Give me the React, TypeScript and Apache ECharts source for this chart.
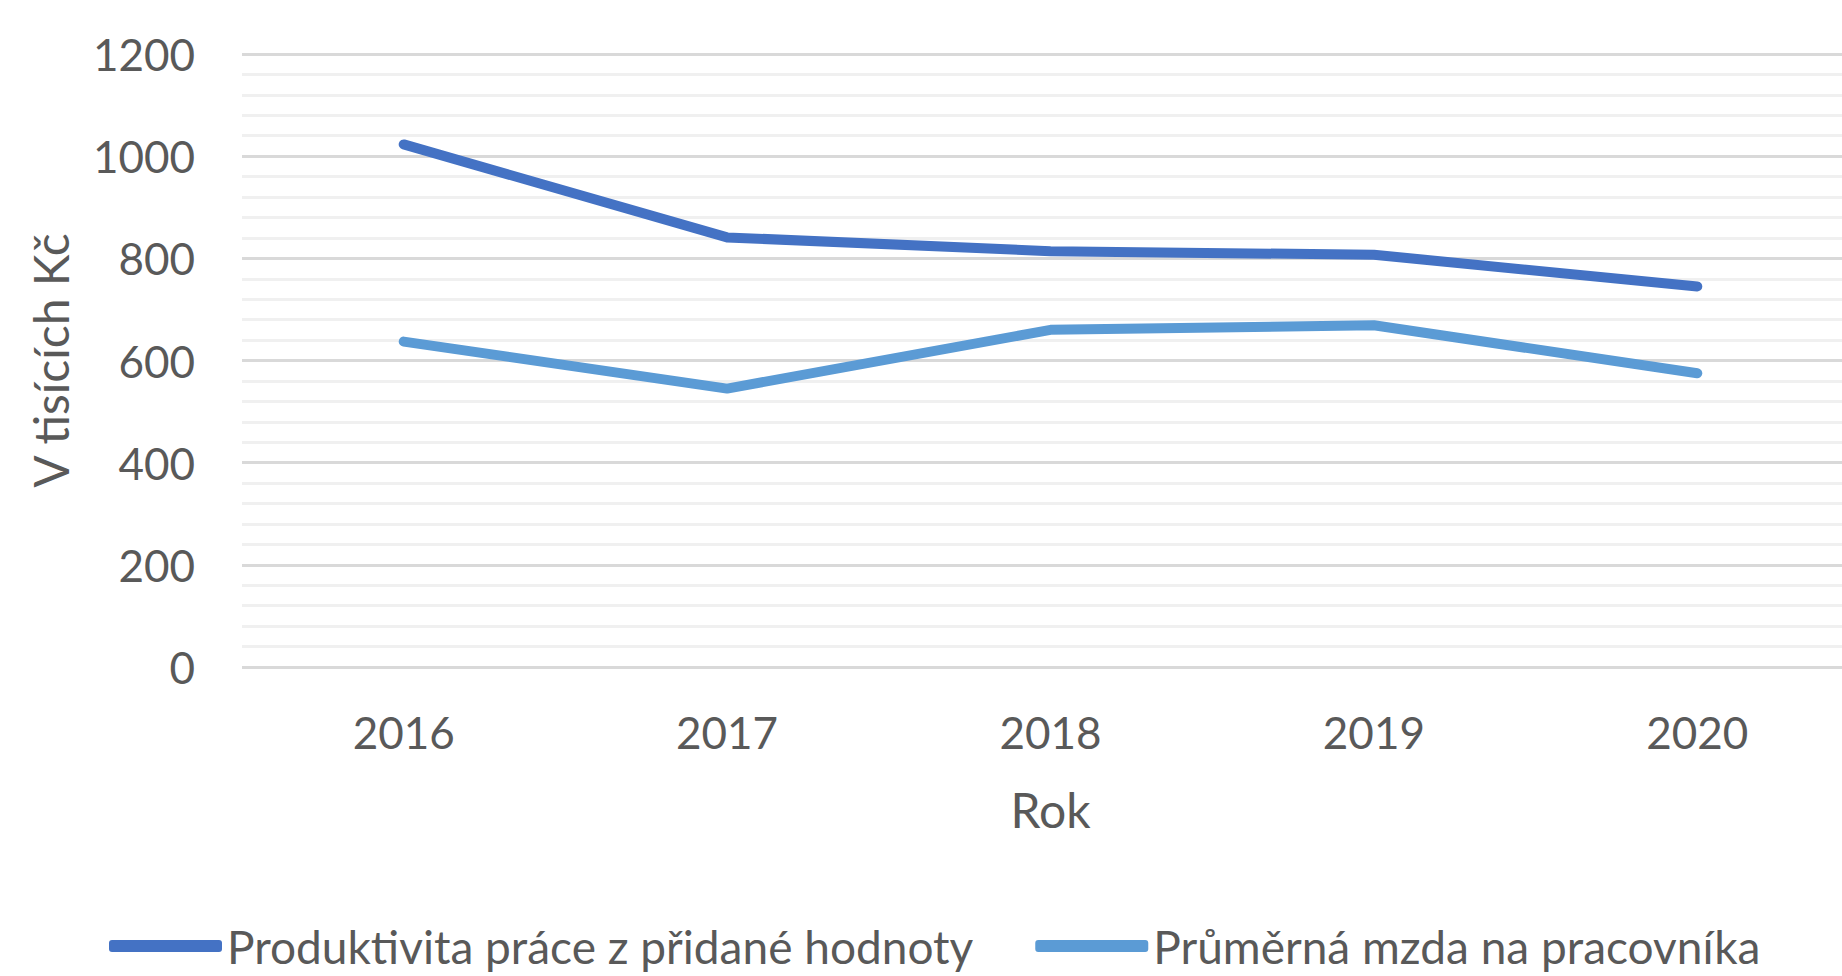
import React, { useEffect, useRef } from "react";
import * as echarts from "echarts";

const years = ["2016", "2017", "2018", "2019", "2020"];
const productivity = [1023, 841, 814, 807, 745];
const wage = [637, 545, 660, 669, 575];
const seriesNames = ["Produktivita práce z přidané hodnoty", "Průměrná mzda na pracovníka"];
const yAxisTitle = "V tisících Kč";
const xAxisTitle = "Rok";

const FONT = "Lato";
const TEXT = "#595959";

export default function App() {
  const ref = useRef<HTMLDivElement>(null);
  useEffect(() => {
    document.body.style.margin = "0";
    const chart = echarts.init(ref.current!, null, { renderer: "svg" });
    chart.setOption({
      animation: false,
      backgroundColor: "#ffffff",
      textStyle: { fontFamily: FONT, color: TEXT },
      grid: {
        left: 242,
        width: 1617,
        top: 54,
        bottom: 309,
        containLabel: false,
        outerBoundsMode: "none",
      },
      legend: {
        left: 104,
        top: 918,
        icon: "roundRect",
        itemWidth: 113,
        itemHeight: 12,
        itemGap: 62,
        textStyle: { fontFamily: FONT, fontSize: 46, color: TEXT },
        data: seriesNames,
      },
      xAxis: {
        type: "category",
        data: years,
        boundaryGap: true,
        axisLine: { show: false },
        axisTick: { show: false },
        axisLabel: { fontFamily: FONT, fontSize: 44, color: TEXT, margin: 43 },
        name: xAxisTitle,
        nameLocation: "middle",
        nameGap: 118,
        nameTextStyle: { fontFamily: FONT, fontSize: 48, color: TEXT },
      },
      yAxis: {
        type: "value",
        min: 0,
        max: 1200,
        interval: 200,
        axisLine: { show: false },
        axisTick: { show: false },
        axisLabel: {
          fontFamily: FONT,
          fontSize: 44,
          color: TEXT,
          margin: 47,
          formatter: (v: number) => String(v),
        },
        splitLine: { show: true, lineStyle: { color: "#d9d9d9", width: 3 } },
        minorTick: { show: false, splitNumber: 5 },
        minorSplitLine: { show: true, lineStyle: { color: "#f0f0f0", width: 3 } },
        name: yAxisTitle,
        nameLocation: "middle",
        nameRotate: 90,
        nameGap: 168,
        nameTextStyle: { fontFamily: FONT, fontSize: 48, color: TEXT },
      },
      series: [
        {
          name: seriesNames[0],
          type: "line",
          data: productivity,
          symbol: "none",
          lineStyle: { color: "#4472C4", width: 10, cap: "round", join: "round" },
          itemStyle: { color: "#4472C4" },
        },
        {
          name: seriesNames[1],
          type: "line",
          data: wage,
          symbol: "none",
          lineStyle: { color: "#5B9BD5", width: 10, cap: "round", join: "round" },
          itemStyle: { color: "#5B9BD5" },
        },
      ],
    });
    return () => chart.dispose();
  }, []);
  return (
    <div
      ref={ref}
      style={{ position: "absolute", left: 0, top: 0, width: 1842, height: 976 }}
    />
  );
}
